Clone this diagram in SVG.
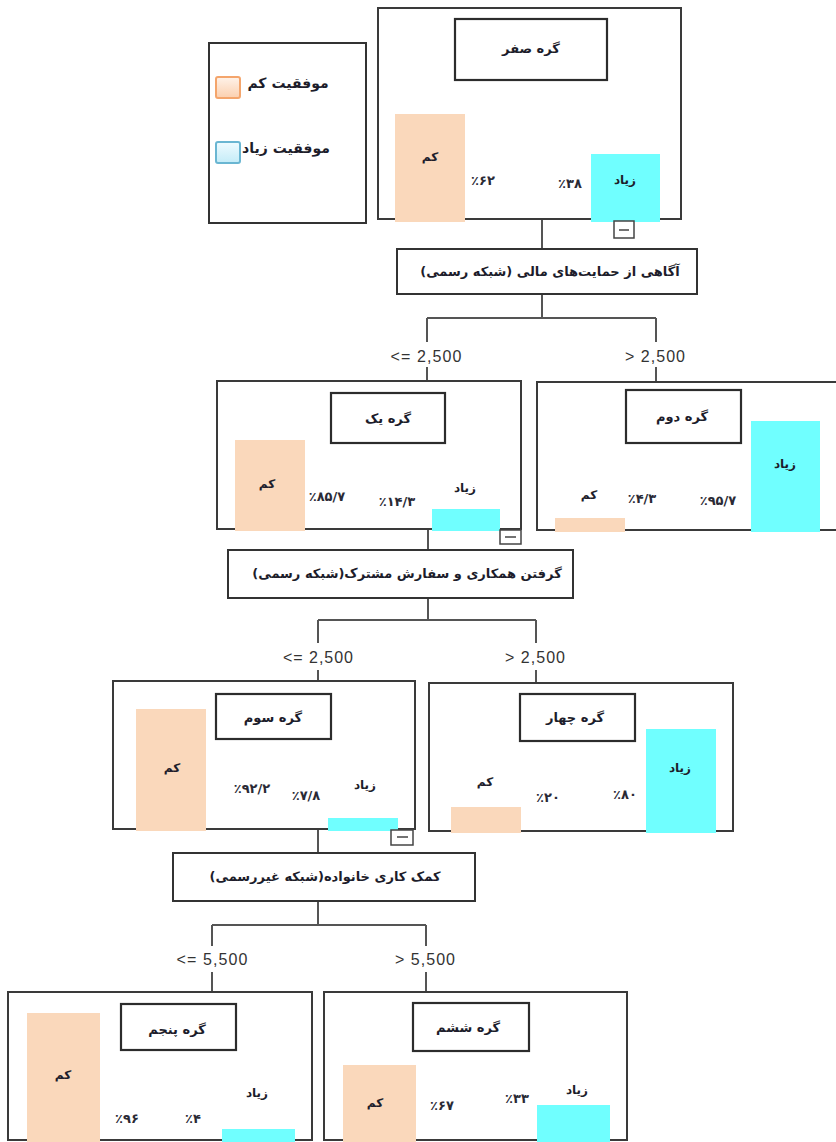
<svg xmlns="http://www.w3.org/2000/svg" width="836" height="1142" viewBox="0 0 836 1142">
<defs>
<linearGradient id="gLow" x1="0" y1="0" x2="0" y2="1"><stop offset="0" stop-color="#fff3ea"/><stop offset="1" stop-color="#fbcfae"/></linearGradient>
<linearGradient id="gHigh" x1="0" y1="0" x2="0" y2="1"><stop offset="0" stop-color="#effbff"/><stop offset="1" stop-color="#c4ecf8"/></linearGradient>
<style>
.node{fill:#fff;stroke:#3a3a3a;stroke-width:2}
.title{fill:#fff;stroke:#2c2c2c;stroke-width:2.2}
.split{fill:#fff;stroke:#333;stroke-width:2}
.low{fill:#fad8bb}
.high{fill:#70ffff}
.fa{font-family:"DejaVu Sans",sans-serif;font-weight:bold;fill:#1d1d2b;direction:rtl;text-anchor:middle}
.t{font-size:13px}
.b{font-size:12px}
.s{font-size:13px}
.pct{font-family:"DejaVu Sans",sans-serif;font-weight:bold;font-size:13px;fill:#2a2a35;text-anchor:middle}
.cond{font-family:"Liberation Sans",Arial,sans-serif;font-size:16px;fill:#333;text-anchor:middle;direction:ltr}
.conn{stroke:#555;stroke-width:2;fill:none}
.toggle{fill:#fff;stroke:#444;stroke-width:1.5}
.minus{stroke:#444;stroke-width:1.5}
</style>
</defs>

<g id="connectors">
<path class="conn" d="M542,219V249 M542,294V318 M427,318H656 M427,318V342 M656,318V342 M427,367V381 M656,367V382"/>
<path class="conn" d="M428,529V550 M428,598V620 M318,620H536 M318,620V643 M536,620V643 M318,670V681 M536,670V683"/>
<path class="conn" d="M318,829V853 M318,901V925 M212,925H426 M212,925V946 M426,925V946 M212,972V992 M426,972V992"/>
</g>

<g id="legend">
<rect x="209" y="43" width="157" height="180" fill="#fff" stroke="#333" stroke-width="2"/>
<rect x="216" y="77" width="24" height="21" rx="2" fill="url(#gLow)" stroke="#f4a56c" stroke-width="2"/>
<text class="fa" x="288" y="88" font-size="14">موفقیت کم</text>
<rect x="216" y="142" width="24" height="21" rx="2" fill="url(#gHigh)" stroke="#6ab6d2" stroke-width="2"/>
<text class="fa" x="286" y="153" font-size="14">موفقیت زیاد</text>
</g>

<g id="node0">
<rect class="node" x="378" y="8" width="303" height="211"/>
<rect class="title" x="455" y="19" width="152" height="61"/>
<text class="fa t" x="531" y="53">گره صفر</text>
<rect class="low" x="395" y="114" width="70" height="108"/>
<rect class="high" x="591" y="154" width="69" height="68"/>
<text class="fa b" x="430" y="161">کم</text>
<text class="pct" x="483" y="185">٪۶۲</text>
<text class="pct" x="570" y="188">٪۳۸</text>
<text class="fa b" x="625" y="184">زیاد</text>
<rect class="toggle" x="614" y="221" width="20" height="17"/>
<line class="minus" x1="619" y1="230" x2="629" y2="230"/>
</g>

<g id="split1">
<rect class="split" x="397" y="249" width="300" height="45"/>
<text class="fa s" x="550" y="276">آگاهی از حمایت‌های مالی (شبکه رسمی)</text>
<text class="cond" x="426" y="362" textLength="71">&lt;= 2,500</text>
<text class="cond" x="655" y="362" textLength="60">&gt; 2,500</text>
</g>

<g id="node1">
<rect class="node" x="217" y="381" width="304" height="148"/>
<rect class="title" x="331" y="393" width="114" height="50"/>
<text class="fa t" x="388" y="423">گره یک</text>
<rect class="low" x="235" y="440" width="70" height="91"/>
<rect class="high" x="432" y="509" width="68" height="22"/>
<text class="fa b" x="267" y="488">کم</text>
<text class="pct" x="327" y="501">٪۸۵/۷</text>
<text class="pct" x="397" y="506">٪۱۴/۳</text>
<text class="fa b" x="465" y="492">زیاد</text>
<rect class="toggle" x="500" y="530" width="21" height="14"/>
<line class="minus" x1="505" y1="537" x2="516" y2="537"/>
</g>

<g id="node2">
<rect class="node" x="537" y="382" width="310" height="148"/>
<rect class="title" x="626" y="390" width="115" height="53"/>
<text class="fa t" x="682" y="421">گره دوم</text>
<rect class="high" x="751" y="421" width="69" height="111"/>
<rect class="low" x="555" y="518" width="70" height="14"/>
<text class="fa b" x="785" y="468">زیاد</text>
<text class="fa b" x="589" y="499">کم</text>
<text class="pct" x="642" y="503">٪۴/۳</text>
<text class="pct" x="718" y="505">٪۹۵/۷</text>
</g>

<g id="split2">
<rect class="split" x="228" y="550" width="345" height="48"/>
<text class="fa s" x="407" y="578">گرفتن همکاری و سفارش مشترک(شبکه رسمی)</text>
<text class="cond" x="318" y="663" textLength="70">&lt;= 2,500</text>
<text class="cond" x="535" y="663" textLength="60">&gt; 2,500</text>
</g>

<g id="node3">
<rect class="node" x="113" y="681" width="302" height="148"/>
<rect class="title" x="216" y="694" width="115" height="45"/>
<text class="fa t" x="273" y="722">گره سوم</text>
<rect class="low" x="136" y="709" width="70" height="122"/>
<rect class="high" x="328" y="818" width="70" height="13"/>
<text class="fa b" x="172" y="772">کم</text>
<text class="pct" x="252" y="793">٪۹۲/۲</text>
<text class="pct" x="306" y="800">٪۷/۸</text>
<text class="fa b" x="365" y="789">زیاد</text>
<rect class="toggle" x="391" y="830" width="22" height="15"/>
<line class="minus" x1="397" y1="837" x2="408" y2="837"/>
</g>

<g id="node4">
<rect class="node" x="429" y="683" width="304" height="148"/>
<rect class="title" x="520" y="694" width="115" height="47"/>
<text class="fa t" x="575" y="722">گره چهار</text>
<rect class="high" x="646" y="729" width="70" height="104"/>
<rect class="low" x="451" y="807" width="70" height="26"/>
<text class="fa b" x="680" y="772">زیاد</text>
<text class="pct" x="625" y="799">٪۸۰</text>
<text class="pct" x="548" y="802">٪۲۰</text>
<text class="fa b" x="485" y="786">کم</text>
</g>

<g id="split3">
<rect class="split" x="173" y="853" width="302" height="48"/>
<text class="fa s" x="325" y="881">کمک کاری خانواده(شبکه غیررسمی)</text>
<text class="cond" x="212" y="965" textLength="71">&lt;= 5,500</text>
<text class="cond" x="425" y="965" textLength="60">&gt; 5,500</text>
</g>

<g id="node5">
<rect class="node" x="8" y="992" width="304" height="148"/>
<rect class="title" x="121" y="1004" width="115" height="46"/>
<text class="fa t" x="177" y="1034">گره پنجم</text>
<rect class="low" x="27" y="1013" width="73" height="130"/>
<rect class="high" x="222" y="1129" width="73" height="14"/>
<text class="fa b" x="63" y="1079">کم</text>
<text class="pct" x="127" y="1123">٪۹۶</text>
<text class="pct" x="193" y="1123">٪۴</text>
<text class="fa b" x="257" y="1097">زیاد</text>
</g>

<g id="node6">
<rect class="node" x="324" y="992" width="303" height="148"/>
<rect class="title" x="413" y="1003" width="116" height="48"/>
<text class="fa t" x="468" y="1032">گره ششم</text>
<rect class="low" x="343" y="1065" width="73" height="78"/>
<rect class="high" x="537" y="1105" width="73" height="38"/>
<text class="fa b" x="375" y="1107">کم</text>
<text class="pct" x="442" y="1110">٪۶۷</text>
<text class="pct" x="517" y="1103">٪۳۳</text>
<text class="fa b" x="577" y="1094">زیاد</text>
</g>
</svg>
